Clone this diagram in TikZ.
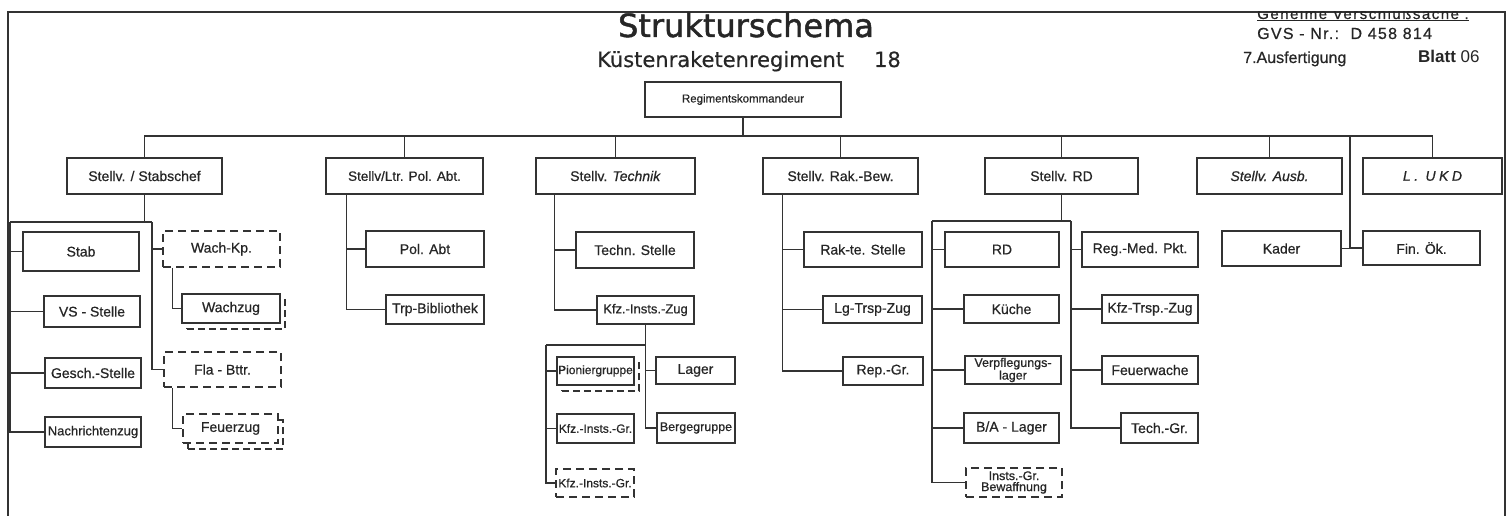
\documentclass[tikz,border=0pt]{standalone}
\usepackage{fontspec}
\setmainfont{Liberation Sans}
\newfontfamily\titlefont{DejaVu Sans}
\usetikzlibrary{shadows}

\begin{document}
\begin{tikzpicture}[x=1pt, y=-1pt,
        every node/.style={text=black!85},
        box/.style={rectangle, draw=black!80, line width=1.5pt, fill=white, inner sep=1pt, align=center, font=\fontsize{14}{13}\selectfont\addfontfeature{FakeBold=0.6}},
        dbox/.style={box, dash pattern=on 8pt off 5pt},
        stack/.style={copy shadow={shadow xshift=5pt, shadow yshift=-6pt, dash pattern=on 7pt off 4pt}},
        sz/.style 2 args={minimum width=#1pt, minimum height=#2pt},
        conn/.style={draw=black!80, line width=1.1pt}]
    \useasboundingbox (0,0) rectangle (1512,516);
    \draw [line width=1.2pt, black!80] (8,516) -- (8,12) -- (1505,12) -- (1505,516);

    % Kopf
    \node [font=\titlefont\fontsize{32}{32}\selectfont\addfontfeature{FakeBold=1.5}, anchor=base, inner sep=0] (title) at (746,37) {Strukturschema};
    \node [font=\titlefont\fontsize{21}{21}\selectfont\addfontfeature{FakeBold=0.5}, anchor=base west, inner sep=0] (subtitle) at (597,67) {Küstenraketenregiment\hspace{30pt}18};
    \begin{scope}
        \clip (8,12) rectangle (1505,100);
        \node [font=\fontsize{15}{15}\selectfont\addfontfeature{LetterSpace=10,FakeBold=0.6}, anchor=base west, inner sep=0] (gvs) at (1257,19) {\underline{Geheime Verschlußsache .}};
    \end{scope}
    \node [font=\fontsize{16}{16}\selectfont\addfontfeature{LetterSpace=8,FakeBold=0.6}, anchor=base west, inner sep=0] (gvsnr) at (1257,39) {GVS - Nr.:\ \ D 458 814};
    \node [font=\fontsize{16}{16}\selectfont\addfontfeature{FakeBold=0.6}, anchor=base west, inner sep=0] (ausf) at (1243,63) {7.Ausfertigung};
    \node [font=\fontsize{17}{17}\selectfont, anchor=base west, inner sep=0] (blatt) at (1418,63) {\textbf{Blatt} 06};

    % Leitung
    \node [box, sz={196}{35}, font=\fontsize{11.5}{12}\selectfont\addfontfeature{FakeBold=0.6}] (rk) at (743,99.5) {Regimentskommandeur};
    \node [box, sz={155}{36}] (sc) at (144.5,176) {Stellv. / Stabschef};
    \node [box, sz={157}{36}, font=\fontsize{13.5}{13}\selectfont\addfontfeature{FakeBold=0.6}] (spol) at (404.5,176) {Stellv/Ltr. Pol. Abt.};
    \node [box, sz={159}{36}] (stech) at (615.5,176) {Stellv. \textit{Technik}};
    \node [box, sz={155}{36}] (srak) at (840.5,176) {Stellv. Rak.-Bew.};
    \node [box, sz={153}{36}] (srd) at (1061.5,176) {Stellv. RD};
    \node [box, sz={145}{36}] (sausb) at (1269.5,176) {\textit{Stellv. Ausb.}};
    \node [box, sz={139}{36}] (ukd) at (1432.5,176) {\itshape\addfontfeature{LetterSpace=25}L. UKD};

    % Stabschef
    \node [box, sz={116}{39}] (stab) at (81,251.5) {Stab};
    \node [box, sz={96}{31}] (vs) at (92,311.5) {VS - Stelle};
    \node [box, sz={96}{30}] (gesch) at (93,373) {Gesch.-Stelle};
    \node [box, sz={96}{30}, font=\fontsize{13}{13}\selectfont\addfontfeature{FakeBold=0.6}] (nach) at (93,432) {Nachrichtenzug};
    \node [dbox, sz={117}{36}] (wkp) at (221.5,249) {Wach-Kp.};
    \node [box, stack, sz={98}{29}] (wz) at (231,308.5) {Wachzug};
    \node [dbox, sz={117}{35}] (fla) at (222.5,369.5) {Fla - Bttr.};
    \node [dbox, stack, sz={95}{29}] (fz) at (230.5,428.5) {Feuerzug};

    % Pol. Abt.
    \node [box, sz={118}{36}] (polabt) at (425,249) {Pol. Abt};
    \node [box, sz={98}{29}] (trp) at (435,309.5) {Trp-Bibliothek};

    % Technik
    \node [box, sz={118}{36}] (tst) at (635,250) {Techn. Stelle};
    \node [box, sz={97}{28}, font=\fontsize{13}{13}\selectfont\addfontfeature{FakeBold=0.6}] (kzug) at (645.5,310) {Kfz.-Insts.-Zug};
    \node [box, stack, sz={77}{28}, font=\fontsize{12}{12}\selectfont\addfontfeature{FakeBold=0.6}] (pion) at (595.5,371) {Pioniergruppe};
    \node [box, sz={77}{29}, font=\fontsize{12}{12}\selectfont\addfontfeature{FakeBold=0.6}] (kgr1) at (595.5,428.5) {Kfz.-Insts.-Gr.};
    \node [dbox, sz={78}{28}, font=\fontsize{12}{12}\selectfont\addfontfeature{FakeBold=0.6}] (kgr2) at (595,483) {Kfz.-Insts.-Gr.};
    \node [box, sz={79}{27}] (lager) at (695.5,370.5) {Lager};
    \node [box, sz={78}{30}, font=\fontsize{12.5}{12}\selectfont\addfontfeature{FakeBold=0.6}] (berge) at (696,428) {Bergegruppe};

    % Rak.-Bew.
    \node [box, sz={118}{35}] (rakst) at (863,249.5) {Rak-te. Stelle};
    \node [box, sz={99}{27}] (lg) at (872.5,309.5) {Lg-Trsp-Zug};
    \node [box, sz={80}{28}] (rep) at (883,371) {Rep.-Gr.};

    % RD
    \node [box, sz={114}{35}] (rd) at (1002,249.5) {RD};
    \node [box, sz={95}{28}] (kue) at (1011.5,309) {Küche};
    \node [box, sz={96}{28}, font=\fontsize{12.5}{10}\selectfont\addfontfeature{FakeBold=0.6}] (verpf) at (1013,370) {Verpflegungs-\\lager};
    \node [box, sz={95}{30}] (ba) at (1011.5,428) {B/A - Lager};
    \node [dbox, sz={96}{29}, font=\fontsize{12.5}{11}\selectfont\addfontfeature{FakeBold=0.6}] (insts) at (1014,482.5) {Insts.-Gr.\\Bewaffnung};
    \node [box, sz={116}{35}] (regmed) at (1140,249.5) {Reg.-Med. Pkt.};
    \node [box, sz={96}{28}] (kfztr) at (1150,309) {Kfz-Trsp.-Zug};
    \node [box, sz={96}{28}] (feuerw) at (1150,370) {Feuerwache};
    \node [box, sz={77}{30}] (techgr) at (1159.5,428) {Tech.-Gr.};

    % Ausb. / UKD
    \node [box, sz={119}{35}] (kader) at (1281.5,248.5) {Kader};
    \node [box, sz={117}{34}] (finok) at (1421.5,248) {Fin. Ök.};

    % Verbindungen
    \coordinate (bus) at (743,136);
    \coordinate (okbus) at (1350,136);
    \draw [conn] (rk) -- (bus);
    \draw [conn] (sc) |- (bus) -| (ukd);
    \foreach \n in {spol,stech,srak,srd,sausb}
        \draw [conn] (\n) -- (\n |- bus);
    \draw [conn] (okbus) |- (kader);
    \draw [conn] (okbus) |- (finok);

    \coordinate (scL) at (10,222);
    \coordinate (scR) at (152,222);
    \draw [conn] (sc) -- (sc |- scL);
    \draw [conn] (scL) -- (scR);
    \foreach \n in {stab,vs,gesch,nach}
        \draw [conn] (scL) |- (\n);
    \foreach \n in {wkp,fla}
        \draw [conn] (scR) |- (\n);
    \draw [conn] ([xshift=10pt]wkp.south west) |- (wz);
    \draw [conn] ([xshift=9pt]fla.south west) |- (fz);

    \foreach \n in {polabt,trp}
        \draw [conn] ([xshift=21pt]spol.south west) |- (\n);

    \foreach \n in {tst,kzug}
        \draw [conn] ([xshift=19pt]stech.south west) |- (\n);
    \coordinate (kzL) at (546,345);
    \draw [conn] (kzug) |- (kzL);
    \foreach \n in {pion,kgr1,kgr2}
        \draw [conn] (kzL) |- (\n);
    \foreach \n in {lager,berge}
        \draw [conn] (kzug) |- (\n);

    \foreach \n in {rakst,lg,rep}
        \draw [conn] ([xshift=20pt]srak.south west) |- (\n);

    \coordinate (rdL) at (932,221);
    \coordinate (rdR) at (1071,221);
    \draw [conn] (srd) -- (srd |- rdL);
    \draw [conn] (rdL) -- (rdR);
    \foreach \n in {rd,kue,verpf,ba,insts}
        \draw [conn] (rdL) |- (\n);
    \foreach \n in {regmed,kfztr,feuerw,techgr}
        \draw [conn] (rdR) |- (\n);
\end{tikzpicture}
\end{document}
